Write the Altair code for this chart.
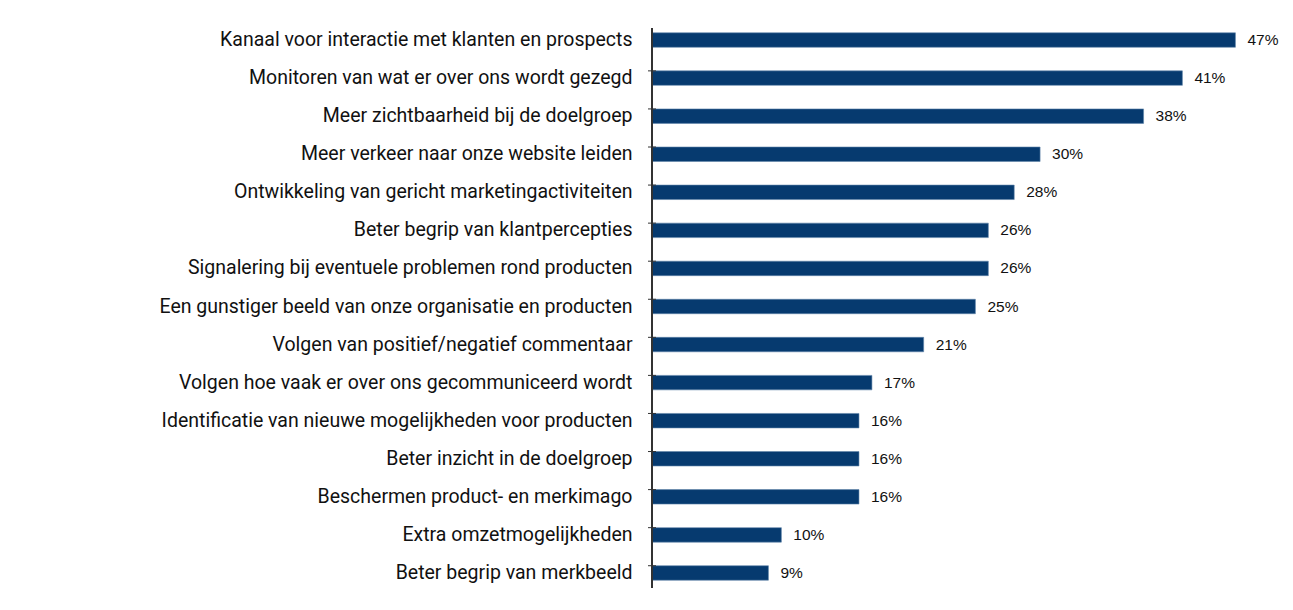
import altair as alt
import pandas as pd

categories = [
    "Kanaal voor interactie met klanten en prospects",
    "Monitoren van wat er over ons wordt gezegd",
    "Meer zichtbaarheid bij de doelgroep",
    "Meer verkeer naar onze website leiden",
    "Ontwikkeling van gericht marketingactiviteiten",
    "Beter begrip van klantpercepties",
    "Signalering bij eventuele problemen rond producten",
    "Een gunstiger beeld van onze organisatie en producten",
    "Volgen van positief/negatief commentaar",
    "Volgen hoe vaak er over ons gecommuniceerd wordt",
    "Identificatie van nieuwe mogelijkheden voor producten",
    "Beter inzicht in de doelgroep",
    "Beschermen product- en merkimago",
    "Extra omzetmogelijkheden",
    "Beter begrip van merkbeeld",
]
# bar lengths as drawn in the picture
values = [45.1, 41, 38, 30, 28, 26, 26, 25, 21, 17, 16, 16, 16, 10, 9]
# printed labels
labels = ["47%", "41%", "38%", "30%", "28%", "26%", "26%", "25%", "21%", "17%",
          "16%", "16%", "16%", "10%", "9%"]

df = pd.DataFrame({"cat": categories, "val": values, "lab": labels})
tick_df = pd.DataFrame({"cat": categories[1:]})

y_scale = alt.Scale(domain=categories, paddingInner=0.62, paddingOuter=0.31)
x_scale = alt.Scale(domain=[0, 47], range=[0, 608], nice=False)

y_axis = alt.Axis(
    title=None,
    labelFont="Roboto",
    labelFontSize=19.5,
    labelColor="#111111",
    labelPadding=20,
    labelLimit=700,
    ticks=False,
    domain=False,
    grid=False,
)

bars = alt.Chart(df).mark_bar(color="#063a6f", stroke="#5f84aa", strokeWidth=0.6).encode(
    y=alt.Y("cat:N", sort=categories, scale=y_scale, axis=y_axis),
    x=alt.X("val:Q", scale=x_scale, axis=None),
)
text = alt.Chart(df).mark_text(
    align="left", baseline="middle", dx=12, font="Liberation Sans", fontSize=15.5, color="#111111"
).encode(
    y=alt.Y("cat:N", sort=categories, scale=y_scale, axis=y_axis),
    x=alt.X("val:Q", scale=x_scale, axis=None),
    text="lab:N",
)

ticks = alt.Chart(tick_df).mark_rule(color="#333333", strokeWidth=1).encode(
    y=alt.Y("cat:N", sort=categories, scale=y_scale, bandPosition=0, axis=y_axis),
    x=alt.value(-4),
    x2=alt.value(4),
)
domain_line = alt.Chart(tick_df).mark_rule(color="#333333", strokeWidth=1).encode(
    x=alt.value(0), y=alt.value(7), y2=alt.value(567)
)

chart = (
    alt.layer(bars, text, ticks, domain_line)
    .properties(
        width=630,
        height=571,
        background="white",
        autosize=alt.AutoSizeParams(type="none"),
        padding={"left": 644, "top": 13, "right": 0, "bottom": 0},
    )
    .configure_view(strokeWidth=0, stroke="transparent")
)

chart.save("out.html", embed_options={"renderer": "svg", "actions": False})
